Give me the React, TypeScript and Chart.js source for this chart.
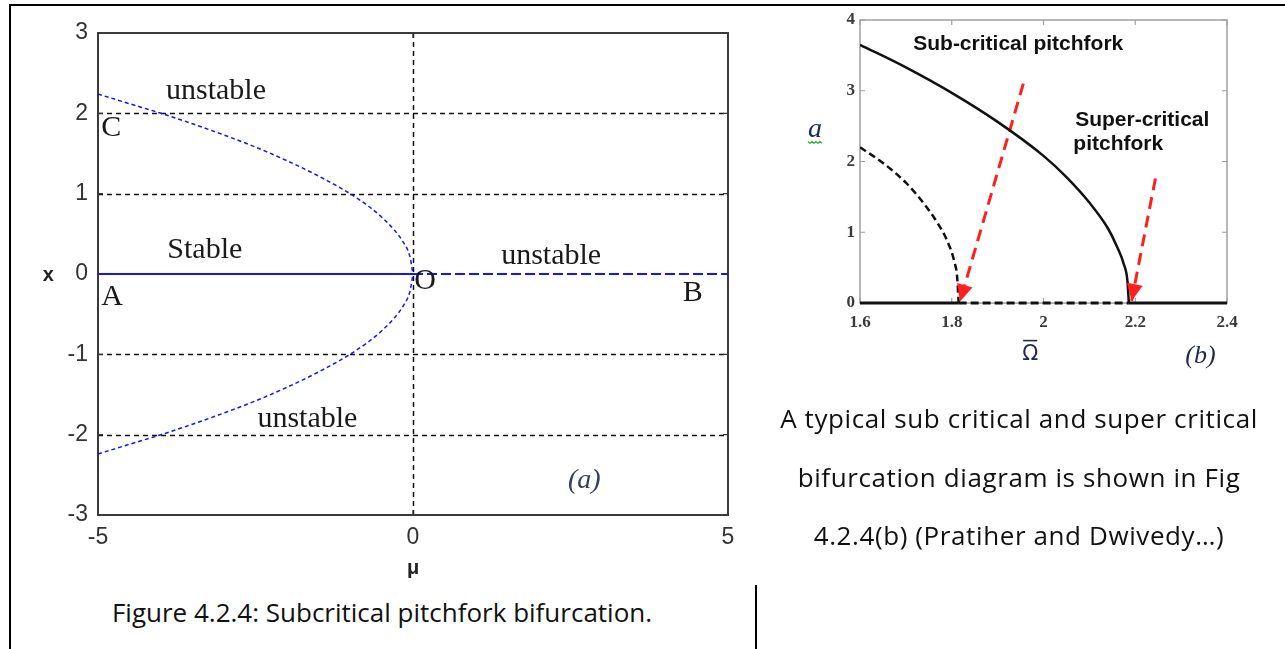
import React, { useEffect, useRef } from "react";
import { Chart, registerables } from "chart.js";
Chart.register(...registerables);

// ---------------- Panel (a) data ----------------
const muTicks = [-5, 0, 5];
const xTicks = [-3, -2, -1, 0, 1, 2, 3];
const gridMuA = [0];
const gridXA = [-2, -1, 1, 2];
const branchMu = [-5, -4.5, -4, -3.5, -3, -2.5, -2, -1.5, -1, -0.7, -0.5, -0.3, -0.15, -0.05, 0];
const upperX = [2.24, 2.12, 2.0, 1.87, 1.73, 1.58, 1.41, 1.22, 1.0, 0.84, 0.71, 0.55, 0.39, 0.22, 0];
const lowerX = [-2.24, -2.12, -2.0, -1.87, -1.73, -1.58, -1.41, -1.22, -1.0, -0.84, -0.71, -0.55, -0.39, -0.22, 0];
const stableMu = [-5, 0];
const stableX = [0, 0];
const unstableMu = [0, 5];
const unstableX = [0, 0];

// ---------------- Panel (b) data ----------------
const omegaTicks = [1.6, 1.8, 2, 2.2, 2.4];
const aTicks = [0, 1, 2, 3, 4];
const superOmega = [1.6, 1.7, 1.8, 1.9, 2.0, 2.05, 2.1, 2.14, 2.16, 2.175, 2.183, 2.186];
const superA = [3.65, 3.33, 2.97, 2.56, 2.08, 1.78, 1.42, 1.06, 0.8, 0.55, 0.31, 0];
const subOmega = [1.6, 1.65, 1.7, 1.74, 1.77, 1.79, 1.805, 1.812, 1.815];
const subA = [2.2, 1.98, 1.7, 1.4, 1.12, 0.88, 0.6, 0.35, 0];
const trivialLeftOmega = [1.6, 1.815];
const trivialMidOmega = [1.815, 2.186];
const trivialRightOmega = [2.186, 2.4];
const trivialA = [0, 0];
const arrowSubOmega = [1.956, 1.818];
const arrowSubA = [3.1, 0.02];
const arrowSuperOmega = [2.244, 2.192];
const arrowSuperA = [1.76, 0.03];

const pts = (xs: number[], ys: number[]) => xs.map((x, i) => ({ x, y: ys[i] }));

type Label = {
  text: string;
  x: number;
  y: number;
  font: string;
  color: string;
  align?: CanvasTextAlign;
  baseline?: CanvasTextBaseline;
  squiggle?: string;
  overbar?: boolean;
};

type DecorCfg = {
  frameColor: string;
  frameWidth: number;
  tickColor: string;
  tickLen: number;
  tickWidth: number;
  xTickVals: number[];
  yTickVals: number[];
  gridX: number[];
  gridY: number[];
  gridColor: string;
  gridDash: number[];
  gridWidth: number;
  labels: Label[];
  arrows: { xs: number[]; ys: number[]; color: string; len: number; half: number }[];
};

function decorPlugin(cfg: DecorCfg) {
  return {
    id: "decor",
    beforeDatasetsDraw(chart: any) {
      const { ctx, chartArea: ca, scales } = chart;
      const sx = scales.x;
      const sy = scales.y;
      ctx.save();
      ctx.strokeStyle = cfg.gridColor;
      ctx.lineWidth = cfg.gridWidth;
      ctx.setLineDash(cfg.gridDash);
      for (const v of cfg.gridX) {
        const px = Math.round(sx.getPixelForValue(v)) + 0.5;
        ctx.beginPath();
        ctx.moveTo(px, ca.top);
        ctx.lineTo(px, ca.bottom);
        ctx.stroke();
      }
      for (const v of cfg.gridY) {
        const py = Math.round(sy.getPixelForValue(v)) + 0.5;
        ctx.beginPath();
        ctx.moveTo(ca.left, py);
        ctx.lineTo(ca.right, py);
        ctx.stroke();
      }
      ctx.setLineDash([]);
      // inward ticks
      ctx.strokeStyle = cfg.tickColor;
      ctx.lineWidth = cfg.tickWidth;
      for (const v of cfg.xTickVals) {
        const px = sx.getPixelForValue(v);
        ctx.beginPath();
        ctx.moveTo(px, ca.bottom);
        ctx.lineTo(px, ca.bottom - cfg.tickLen);
        ctx.moveTo(px, ca.top);
        ctx.lineTo(px, ca.top + cfg.tickLen);
        ctx.stroke();
      }
      for (const v of cfg.yTickVals) {
        const py = sy.getPixelForValue(v);
        ctx.beginPath();
        ctx.moveTo(ca.left, py);
        ctx.lineTo(ca.left + cfg.tickLen, py);
        ctx.moveTo(ca.right, py);
        ctx.lineTo(ca.right - cfg.tickLen, py);
        ctx.stroke();
      }
      // frame
      ctx.strokeStyle = cfg.frameColor;
      ctx.lineWidth = cfg.frameWidth;
      ctx.strokeRect(ca.left, ca.top, ca.right - ca.left, ca.bottom - ca.top);
      ctx.restore();
    },
    afterDatasetsDraw(chart: any) {
      const { ctx, scales } = chart;
      const sx = scales.x;
      const sy = scales.y;
      ctx.save();
      for (const ar of cfg.arrows) {
        const n = ar.xs.length;
        const x1 = sx.getPixelForValue(ar.xs[n - 2]);
        const y1 = sy.getPixelForValue(ar.ys[n - 2]);
        const x2 = sx.getPixelForValue(ar.xs[n - 1]);
        const y2 = sy.getPixelForValue(ar.ys[n - 1]);
        const d = Math.hypot(x2 - x1, y2 - y1);
        const ux = (x2 - x1) / d;
        const uy = (y2 - y1) / d;
        const bx = x2 - ux * ar.len;
        const by = y2 - uy * ar.len;
        ctx.fillStyle = ar.color;
        ctx.beginPath();
        ctx.moveTo(x2, y2);
        ctx.lineTo(bx - uy * ar.half, by + ux * ar.half);
        ctx.lineTo(bx + uy * ar.half, by - ux * ar.half);
        ctx.closePath();
        ctx.fill();
      }
      for (const l of cfg.labels) {
        const px = sx.getPixelForValue(l.x);
        const py = sy.getPixelForValue(l.y);
        ctx.font = l.font;
        ctx.fillStyle = l.color;
        ctx.textAlign = l.align || "left";
        ctx.textBaseline = l.baseline || "alphabetic";
        ctx.fillText(l.text, px, py);
        const m = ctx.measureText(l.text);
        const w = m.width;
        const left = ctx.textAlign === "center" ? px - w / 2 : px;
        if (l.overbar) {
          const top = py - m.actualBoundingBoxAscent;
          ctx.strokeStyle = l.color;
          ctx.lineWidth = 1.6;
          ctx.beginPath();
          ctx.moveTo(left + 1, top - 3);
          ctx.lineTo(left + w - 1, top - 3);
          ctx.stroke();
        }
        if (l.squiggle) {
          ctx.strokeStyle = l.squiggle;
          ctx.lineWidth = 1.2;
          ctx.beginPath();
          const y0 = py + 5;
          let k = 0;
          for (let xx = left; xx <= left + w + 1; xx += 2) {
            const yy = y0 + (k % 2 === 0 ? -1 : 1);
            if (k === 0) ctx.moveTo(xx, yy);
            else ctx.lineTo(xx, yy);
            k++;
          }
          ctx.stroke();
        }
      }
      ctx.restore();
    },
  };
}

const SERIF = "'Liberation Serif', 'Times New Roman', serif";
const SANS = "'Liberation Sans', Arial, sans-serif";
const BLUE = "#1414ff";
const RED = "#ff1f1f";

function configA(): any {
  const labels: Label[] = [
    { text: "unstable", x: -3.92, y: 2.18, font: `30px ${SERIF}`, color: "#1a1a1a" },
    { text: "C", x: -4.95, y: 1.72, font: `30px ${SERIF}`, color: "#1a1a1a" },
    { text: "Stable", x: -3.9, y: 0.2, font: `30px ${SERIF}`, color: "#1a1a1a" },
    { text: "A", x: -4.95, y: -0.38, font: `30px ${SERIF}`, color: "#1a1a1a" },
    { text: "O", x: 0.02, y: -0.19, font: `30px ${SERIF}`, color: "#1a1a1a" },
    { text: "B", x: 4.28, y: -0.33, font: `30px ${SERIF}`, color: "#1a1a1a" },
    { text: "unstable", x: 1.4, y: 0.12, font: `30px ${SERIF}`, color: "#1a1a1a" },
    { text: "unstable", x: -2.47, y: -1.9, font: `30px ${SERIF}`, color: "#1a1a1a" },
    { text: "(a)", x: 2.46, y: -2.67, font: `italic 28px ${SERIF}`, color: "#34405c" },
    { text: "x", x: -5.79, y: -0.02, font: `bold 20px ${SANS}`, color: "#222", align: "center", baseline: "middle" },
    { text: "μ", x: 0, y: -3.66, font: `bold 20px ${SANS}`, color: "#222", align: "center", baseline: "middle" },
  ];
  return {
    type: "line",
    data: {
      datasets: [
        { data: pts(branchMu, upperX), borderColor: BLUE, borderWidth: 1.5, borderDash: [4, 3], cubicInterpolationMode: "monotone" },
        { data: pts(branchMu, lowerX), borderColor: BLUE, borderWidth: 1.5, borderDash: [4, 3], cubicInterpolationMode: "monotone" },
        { data: pts(stableMu, stableX), borderColor: BLUE, borderWidth: 2 },
        { data: pts(unstableMu, unstableX), borderColor: BLUE, borderWidth: 2, borderDash: [10, 4] },
      ].map((d) => ({ ...d, pointRadius: 0, fill: false })),
    },
    options: {
      animation: false,
      responsive: false,
      events: [],
      layout: { padding: { top: 33, right: 32, left: 0, bottom: 0 } },
      plugins: { legend: { display: false }, tooltip: { enabled: false } },
      scales: {
        x: {
          type: "linear",
          min: -5,
          max: 5,
          grid: { display: false, drawTicks: false },
          border: { display: false },
          afterBuildTicks: (s: any) => {
            s.ticks = muTicks.map((value) => ({ value }));
          },
          afterFit: (s: any) => {
            s.height = 65;
          },
          ticks: {
            callback: (v: any) => String(v),
            font: { family: SANS, size: 23 },
            color: "#333",
            padding: 9,
            maxRotation: 0,
            autoSkip: false,
          },
        },
        y: {
          type: "linear",
          min: -3,
          max: 3,
          grid: { display: false, drawTicks: false },
          border: { display: false },
          afterBuildTicks: (s: any) => {
            s.ticks = xTicks.map((value) => ({ value }));
          },
          afterFit: (s: any) => {
            s.width = 98;
          },
          ticks: {
            callback: (v: any) => String(v),
            font: { family: SANS, size: 23 },
            color: "#333",
            padding: 10,
            autoSkip: false,
          },
        },
      },
    },
    plugins: [
      decorPlugin({
        frameColor: "#3a3a3a",
        frameWidth: 2,
        tickColor: "#3a3a3a",
        tickLen: 5,
        tickWidth: 1.2,
        xTickVals: muTicks,
        yTickVals: xTicks,
        gridX: gridMuA,
        gridY: gridXA,
        gridColor: "#111",
        gridDash: [5, 4],
        gridWidth: 1.5,
        labels,
        arrows: [],
      }),
    ],
  };
}

function configB(): any {
  const labels: Label[] = [
    { text: "Sub-critical pitchfork", x: 1.716, y: 3.574, font: `bold 21px ${SANS}`, color: "#111" },
    { text: "Super-critical", x: 2.069, y: 2.5, font: `bold 21px ${SANS}`, color: "#111" },
    { text: "pitchfork", x: 2.065, y: 2.16, font: `bold 21px ${SANS}`, color: "#111" },
    { text: "a", x: 1.4865, y: 2.34, font: `italic 28px ${SERIF}`, color: "#1e2a4a", squiggle: "#3cb043" },
    { text: "Ω", x: 1.971, y: -0.80, font: `21px 'DejaVu Sans', sans-serif`, color: "#1e2a4a", align: "center", baseline: "alphabetic", overbar: true },
    { text: "(b)", x: 2.342, y: -0.754, font: `italic 26px ${SERIF}`, color: "#1e2a4a", align: "center", baseline: "middle" },
  ];
  return {
    type: "line",
    data: {
      datasets: [
        { data: pts(trivialLeftOmega, trivialA), borderColor: "#111", borderWidth: 3.2, clip: 6 },
        { data: pts(trivialMidOmega, trivialA), borderColor: "#111", borderWidth: 3.2, borderDash: [8, 4], clip: 6 },
        { data: pts(trivialRightOmega, trivialA), borderColor: "#111", borderWidth: 3.2, clip: 6 },
        { data: pts(superOmega, superA), borderColor: "#111", borderWidth: 2.5, cubicInterpolationMode: "monotone" },
        { data: pts(subOmega, subA), borderColor: "#111", borderWidth: 2.5, borderDash: [7, 4], cubicInterpolationMode: "monotone" },
        { data: pts(arrowSubOmega, arrowSubA), borderColor: RED, borderWidth: 3, borderDash: [12, 7] },
        { data: pts(arrowSuperOmega, arrowSuperA), borderColor: RED, borderWidth: 3, borderDash: [12, 7] },
      ].map((d) => ({ ...d, pointRadius: 0, fill: false })),
    },
    options: {
      animation: false,
      responsive: false,
      events: [],
      layout: { padding: { top: 20, right: 58, left: 0, bottom: 0 } },
      plugins: { legend: { display: false }, tooltip: { enabled: false } },
      scales: {
        x: {
          type: "linear",
          min: 1.6,
          max: 2.4,
          grid: { display: false, drawTicks: false },
          border: { display: false },
          afterBuildTicks: (s: any) => {
            s.ticks = omegaTicks.map((value) => ({ value }));
          },
          afterFit: (s: any) => {
            s.height = 77;
          },
          ticks: {
            callback: (v: any) => String(v),
            font: { family: SERIF, size: 17, weight: "bold" },
            color: "#3a3a3a",
            padding: 9,
            maxRotation: 0,
            autoSkip: false,
          },
        },
        y: {
          type: "linear",
          min: 0,
          max: 4,
          grid: { display: false, drawTicks: false },
          border: { display: false },
          afterBuildTicks: (s: any) => {
            s.ticks = aTicks.map((value) => ({ value }));
          },
          afterFit: (s: any) => {
            s.width = 100;
          },
          ticks: {
            callback: (v: any) => String(v),
            font: { family: SERIF, size: 17, weight: "bold" },
            color: "#3a3a3a",
            padding: 5,
            autoSkip: false,
          },
        },
      },
    },
    plugins: [
      decorPlugin({
        frameColor: "#a0a0a0",
        frameWidth: 1.5,
        tickColor: "#a0a0a0",
        tickLen: 5,
        tickWidth: 1.2,
        xTickVals: omegaTicks,
        yTickVals: aTicks,
        gridX: [],
        gridY: [],
        gridColor: "#000",
        gridDash: [],
        gridWidth: 1,
        labels,
        arrows: [
          { xs: arrowSubOmega, ys: arrowSubA, color: RED, len: 17, half: 8 },
          { xs: arrowSuperOmega, ys: arrowSuperA, color: RED, len: 17, half: 8 },
        ],
      }),
    ],
  };
}

export default function App() {
  const refA = useRef<HTMLCanvasElement>(null);
  const refB = useRef<HTMLCanvasElement>(null);
  useEffect(() => {
    const a = new Chart(refA.current as HTMLCanvasElement, configA());
    const b = new Chart(refB.current as HTMLCanvasElement, configB());
    return () => {
      a.destroy();
      b.destroy();
    };
  }, []);
  const textFont = "'Open Sans', 'Noto Sans', sans-serif";
  return (
    <div
      style={{
        position: "absolute",
        left: 0,
        top: 0,
        width: 1285,
        height: 649,
        background: "#fff",
        overflow: "hidden",
      }}
    >
      <canvas
        ref={refA}
        width={760}
        height={580}
        style={{ position: "absolute", left: 0, top: 0, width: 760, height: 580 }}
      />
      <canvas
        ref={refB}
        width={525}
        height={380}
        style={{ position: "absolute", left: 760, top: 0, width: 525, height: 380 }}
      />
      <div style={{ position: "absolute", left: 9, top: 4, width: 1276, height: 2, background: "#000" }} />
      <div style={{ position: "absolute", left: 9, top: 4, width: 2, height: 645, background: "#000" }} />
      <div style={{ position: "absolute", left: 755, top: 585, width: 2, height: 64, background: "#000" }} />
      <div
        style={{
          position: "absolute",
          left: 719,
          top: 389,
          width: 600,
          textAlign: "center",
          fontFamily: textFont,
          fontSize: 26,
          letterSpacing: "0.6px",
          lineHeight: "58.5px",
          color: "#111",
          whiteSpace: "nowrap",
        }}
      >
        A typical sub critical and super critical
        <br />
        bifurcation diagram is shown in Fig
        <br />
        4.2.4(b) (Pratiher and Dwivedy…)
      </div>
      <div
        style={{
          position: "absolute",
          left: 82,
          top: 597,
          width: 600,
          textAlign: "center",
          fontFamily: textFont,
          fontSize: 26,
          lineHeight: "30px",
          color: "#111",
          whiteSpace: "nowrap",
        }}
      >
        Figure 4.2.4: Subcritical pitchfork bifurcation.
      </div>
    </div>
  );
}
